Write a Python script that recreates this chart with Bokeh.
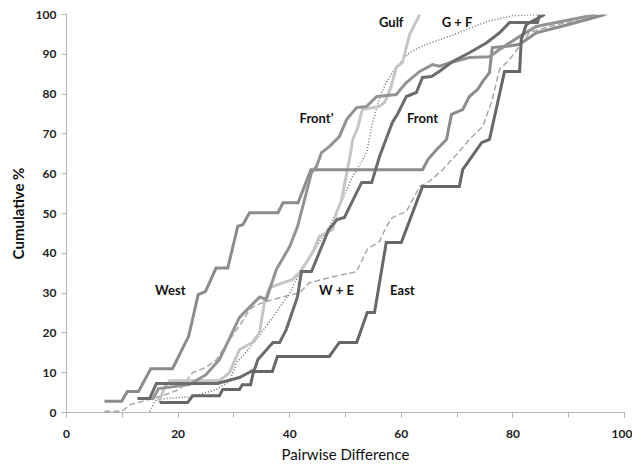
from bokeh.plotting import figure
from bokeh.models import SingleIntervalTicker, Range1d, Label
from bokeh.embed import file_html
from bokeh.resources import INLINE

# ---- data (Pairwise Difference, Cumulative %) ----
west_x = [6.8, 9.9, 10.9, 12.9, 15.1, 19.0, 21.9, 23.6, 24.9, 26.8, 28.9, 30.7, 31.6, 32.8, 37.9, 38.8, 41.5, 43.8,
          63.8, 64.8, 66.3, 68.1, 69.0, 71.0, 72.2, 73.7, 74.6, 75.8, 76.3, 78.9, 81.2, 84.2, 90.0, 96.5]
west_y = [2.8, 2.8, 5.3, 5.3, 11.0, 11.0, 19.2, 29.6, 30.4, 36.3, 36.3, 46.8, 47.2, 50.2, 50.2, 52.7, 52.7, 61.0,
          61.0, 63.6, 66.0, 68.6, 74.9, 76.1, 79.4, 81.2, 83.2, 85.4, 91.7, 92.0, 92.5, 95.4, 97.5, 100.0]

frontp_x = [13.0, 15.5, 16.5, 22.0, 25.0, 27.4, 31.0, 34.6, 35.8, 37.6, 40.0, 41.4, 43.0, 43.9, 44.8, 45.7, 47.1,
            48.9, 50.2, 52.0, 53.8, 55.6, 59.1, 60.9, 63.3, 65.6, 66.8, 69.0, 72.2, 75.8, 77.6, 81.2, 84.2, 88.4, 95.0]
frontp_y = [3.5, 3.5, 6.0, 7.0, 9.5, 13.3, 23.9, 29.0, 28.4, 35.9, 41.7, 46.7, 55.3, 60.3, 61.8, 65.3, 66.8,
            69.3, 73.6, 76.6, 76.9, 79.4, 79.9, 82.9, 85.7, 87.4, 87.0, 88.0, 89.2, 89.4, 91.2, 94.5, 97.0, 98.2, 100.0]

gulf_x = [16.5, 17.6, 18.5, 27.4, 29.2, 31.0, 33.3, 34.6, 35.5, 36.4, 40.5, 41.8, 43.0, 44.4, 45.3, 47.7, 48.4,
          49.3, 50.7, 51.3, 52.2, 53.0, 56.1, 57.0, 57.5, 58.2, 59.1, 60.2, 61.5, 63.3]
gulf_y = [2.5, 6.3, 8.0, 8.0, 10.0, 15.8, 17.6, 20.0, 28.0, 31.4, 33.4, 35.2, 37.7, 41.0, 44.2, 46.0, 50.2,
          53.5, 63.6, 68.6, 71.6, 76.1, 76.9, 77.9, 79.4, 82.0, 86.7, 87.9, 95.0, 100.0]

gf_x = [14.9, 16.1, 22.6, 26.9, 29.2, 30.5, 32.3, 34.0, 37.0, 40.0, 41.8, 44.5, 47.1, 48.9, 51.3, 53.8, 54.7,
        56.1, 57.3, 59.1, 61.5, 64.5, 68.6, 75.3, 80.0, 84.8]
gf_y = [0.3, 3.3, 4.0, 5.8, 7.8, 12.6, 15.3, 18.3, 24.0, 30.0, 35.2, 41.0, 46.7, 51.8, 59.3, 65.3, 72.0,
        79.0, 82.9, 86.9, 90.5, 92.5, 94.5, 98.2, 99.7, 100.0]

front_x = [12.7, 14.9, 16.1, 27.0, 31.0, 33.7, 34.3, 37.0, 38.2, 39.4, 41.4, 42.1, 43.9, 45.3, 47.0, 48.5, 49.8,
           52.9, 54.7, 56.1, 58.4, 59.3, 60.9, 62.7, 63.8, 65.4, 66.8, 69.2, 72.2, 75.3, 77.6, 79.4, 84.4, 84.8]
front_y = [3.5, 3.5, 7.3, 7.3, 8.8, 10.8, 13.3, 17.6, 17.6, 20.9, 29.1, 35.4, 35.4, 40.2, 46.0, 48.5, 49.0,
           57.8, 57.8, 64.3, 72.9, 74.9, 79.4, 80.4, 84.2, 84.4, 85.7, 88.2, 90.4, 92.9, 95.4, 98.0, 98.0, 100.0]

we_x = [6.8, 9.9, 11.5, 16.7, 20.3, 22.6, 25.0, 26.9, 29.2, 31.4, 32.8, 34.0, 37.0, 41.8, 43.5, 47.1, 52.0,
        53.9, 56.1, 57.3, 58.4, 60.9, 63.3, 65.0, 67.4, 69.9, 72.2, 74.6, 76.3, 77.6, 79.4, 83.0, 86.6, 89.6,
        93.7, 95.5, 97.0]
we_y = [0.3, 0.3, 2.0, 4.0, 5.8, 10.0, 11.3, 13.3, 18.3, 22.6, 25.9, 27.0, 28.4, 30.1, 32.6, 33.9, 35.4,
        41.0, 43.0, 46.7, 49.0, 50.5, 56.8, 58.0, 61.0, 64.8, 68.6, 71.9, 78.6, 86.2, 88.7, 95.5, 97.0, 98.0,
        98.7, 99.7, 100.0]

east_x = [16.7, 21.7, 22.6, 27.4, 28.0, 31.0, 31.5, 33.0, 33.5, 36.9, 37.8, 47.1, 48.9, 52.0, 53.9, 55.2, 57.3,
          60.0, 63.8, 70.4, 71.0, 74.4, 75.8, 78.5, 81.2, 81.5, 82.4, 85.7]
east_y = [2.5, 2.5, 4.2, 4.2, 5.8, 5.8, 7.0, 7.0, 10.3, 10.3, 14.1, 14.1, 17.6, 17.6, 25.1, 25.1, 42.7,
          42.7, 56.8, 56.8, 61.0, 67.8, 68.6, 85.7, 85.7, 93.7, 97.5, 100.0]

label_text = ["Gulf", "G + F", "Front'", "Front", "West", "W + E", "East"]
label_x = [58.2, 70.0, 44.8, 63.8, 18.6, 48.4, 60.2]
label_y = [98.0, 98.2, 73.9, 73.9, 30.9, 30.7, 30.7]

# ---- figure ----
p = figure(output_backend="svg", toolbar_location=None,
           frame_width=558, frame_height=398,
           x_range=Range1d(0, 100), y_range=Range1d(0, 100),
           min_border_left=66, min_border_right=8, min_border_top=14, min_border_bottom=44)
p.outline_line_color = None
p.xgrid.visible = False
p.ygrid.visible = False
p.background_fill_color = "white"

series = [
    (we_x, we_y, "#a8a8a8", 1.5, "6 3"),
    (gf_x, gf_y, "#707070", 1.5, "1 2"),
    (gulf_x, gulf_y, "#c6c6c6", 3, "solid"),
    (west_x, west_y, "#8c8c8c", 3, "solid"),
    (frontp_x, frontp_y, "#939393", 3, "solid"),
    (front_x, front_y, "#6c6c6c", 3, "solid"),
    (east_x, east_y, "#676767", 3, "solid"),
]
for xs, ys, col, w, dash in series:
    p.line(xs, ys, line_color=col, line_width=w, line_dash=dash, line_join="miter")

for t, lx, ly in zip(label_text, label_x, label_y):
    p.add_layout(Label(x=lx, y=ly, text=t, text_font="Lato", text_font_style="bold",
                       text_font_size="13px", text_color="#111111",
                       text_align="center", text_baseline="middle"))

for ax in (p.xaxis[0], p.yaxis[0]):
    ax.axis_line_color = "#b5b5b5"
    ax.major_tick_line_color = "#b5b5b5"
    ax.minor_tick_line_color = "#b5b5b5"
    ax.major_tick_out = 5
    ax.major_tick_in = 0
    ax.minor_tick_out = 5
    ax.minor_tick_in = 0
    ax.major_label_text_font = "Lato"
    ax.major_label_text_font_style = "bold"
    ax.major_label_text_font_size = "12px"
    ax.major_label_text_color = "#222222"
    ax.axis_label_text_font = "Lato"
    ax.axis_label_text_font_size = "15px"
    ax.axis_label_text_color = "#111111"

p.xaxis[0].ticker = SingleIntervalTicker(interval=20, num_minor_ticks=2)
p.yaxis[0].ticker = SingleIntervalTicker(interval=10, num_minor_ticks=0)
p.xaxis[0].major_label_standoff = 12
p.xaxis[0].axis_label = "Pairwise Difference"
p.xaxis[0].axis_label_text_font_style = "normal"
p.xaxis[0].axis_label_standoff = 4
p.yaxis[0].axis_label = "Cumulative %"
p.yaxis[0].axis_label_text_font_style = "bold"
p.yaxis[0].axis_label_standoff = 6

open("out.html", "w").write(file_html(p, INLINE))
